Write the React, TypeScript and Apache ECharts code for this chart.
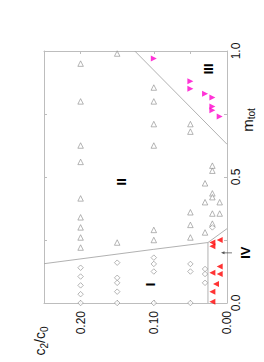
import { useEffect, useRef } from "react";
import * as echarts from "echarts";

// data points as [c2/c0, m_tot]
const openTriangles: [number, number][] = [
  [0.2, 0.95], [0.2, 0.8], [0.2, 0.625], [0.2, 0.56], [0.2, 0.415], [0.2, 0.34], [0.2, 0.3], [0.2, 0.26], [0.2, 0.22],
  [0.15, 0.99], [0.15, 0.24],
  [0.1, 0.855], [0.1, 0.8], [0.1, 0.71], [0.1, 0.625], [0.1, 0.29], [0.1, 0.25],
  [0.05, 0.71], [0.05, 0.68], [0.05, 0.36], [0.05, 0.31], [0.05, 0.26],
  [0.03, 0.475], [0.03, 0.4], [0.03, 0.28],
  [0.02, 0.545], [0.02, 0.525], [0.02, 0.435], [0.02, 0.42], [0.02, 0.355], [0.02, 0.315],
  [0.01, 0.4], [0.01, 0.355],
];
const openDiamonds: [number, number][] = [
  [0.2, 0.14], [0.2, 0.105], [0.2, 0.07], [0.2, 0.035], [0.2, 0.0],
  [0.15, 0.16], [0.15, 0.1], [0.15, 0.08], [0.15, 0.045], [0.15, 0.0],
  [0.1, 0.18], [0.1, 0.155], [0.1, 0.125], [0.1, 0.0],
  [0.05, 0.155], [0.05, 0.125], [0.05, 0.0],
  [0.03, 0.135], [0.03, 0.115], [0.03, 0.08],
  [0.02, 0.3],
];
const redTriangles: [number, number][] = [
  [0.01, 0.25], [0.01, 0.145], [0.01, 0.115],
  [0.02, 0.24], [0.02, 0.225], [0.02, 0.12], [0.02, 0.045], [0.02, 0.005],
  [0.015, 0.075],
];
const magentaTriangles: [number, number][] = [
  [0.1, 0.97],
  [0.05, 0.88], [0.05, 0.85],
  [0.03, 0.83],
  [0.02, 0.815], [0.02, 0.78], [0.02, 0.765],
  [0.01, 0.74],
];
// phase boundaries
const boundaryI_II: [number, number][] = [[0.25, 0.156], [0.1, 0.213], [0.026, 0.24]];
const boundaryIV: [number, number][] = [[0.026, 0.24], [0.026, 0.0]];
const boundaryIV_II: [number, number][] = [[0.026, 0.24], [0.0, 0.295]];
const boundaryIII: [number, number][] = [[0.126, 1.0], [0.0, 0.63]];

const regionLabels = ["I", "II", "III", "IV"];
const regionPositions: [number, number][] = [[0.105, 0.074], [0.144, 0.481], [0.0246, 0.929], [-0.0246, 0.2]];
const arrowFrom: [number, number] = [-0.0068, 0.199];
const arrowTo: [number, number] = [0.0082, 0.199];

const cTickLabels = ["0.00", "0.10", "0.20"];
const mTickLabels = ["0.0", "0.5", "1.0"];

const FONT = "Liberation Sans";
const FRAME = "#bdbdbd";
const GRAY = "#8a8a8a";

export default function App() {
  const ref = useRef<HTMLDivElement>(null);
  useEffect(() => {
    document.body.style.margin = "0";
    const chart = echarts.init(ref.current!, null, { renderer: "svg" });
    const axisCommon = {
      type: "value" as const,
      axisLine: { show: true, onZero: false, lineStyle: { color: FRAME, width: 1 } },
      axisTick: { show: true, inside: true, length: 3, lineStyle: { color: FRAME, width: 1 } },
      splitLine: { show: false },
    };
    const lineSeries = (data: [number, number][]) => ({
      type: "line",
      data,
      showSymbol: false,
      symbol: "none",
      silent: true,
      lineStyle: { color: "#a8a8a8", width: 0.9 },
      z: 1,
    });
    chart.setOption({
      animation: false,
      backgroundColor: "#fff",
      grid: { left: 44, right: 37, top: 51, bottom: 59 },
      xAxis: [
        {
          ...axisCommon,
          min: 0, max: 0.25, interval: 0.05, inverse: true, position: "bottom",
          axisLabel: {
            rotate: 90, margin: 8, fontSize: 12, fontFamily: FONT, color: "#111",
            formatter: (v: number) => { const s = v.toFixed(2); return cTickLabels.includes(s) ? s : ""; },
          },
        },
        { ...axisCommon, min: 0, max: 0.25, interval: 0.05, inverse: true, position: "top", axisLabel: { show: false } },
      ],
      yAxis: [
        {
          ...axisCommon,
          min: 0, max: 1, interval: 0.25, position: "right",
          axisLabel: {
            rotate: 90, margin: 3, fontSize: 12, fontFamily: FONT, color: "#111",
            formatter: (v: number) => { const s = v.toFixed(1); return mTickLabels.includes(s) && Math.abs(v * 2 - Math.round(v * 2)) < 1e-9 ? s : ""; },
          },
        },
        { ...axisCommon, min: 0, max: 1, interval: 0.25, position: "left", axisLabel: { show: false } },
      ],
      series: [
        lineSeries(boundaryI_II),
        lineSeries(boundaryIV),
        lineSeries(boundaryIV_II),
        lineSeries(boundaryIII),
        {
          type: "scatter", data: openTriangles, symbol: "triangle", symbolSize: 5.5,
          itemStyle: { color: "#fff", borderColor: GRAY, borderWidth: 0.8 }, z: 3,
        },
        {
          type: "scatter", data: openDiamonds, symbol: "diamond", symbolSize: 5.5,
          itemStyle: { color: "#fff", borderColor: GRAY, borderWidth: 0.8 }, z: 3,
        },
        {
          type: "scatter", data: redTriangles, symbol: "triangle", symbolSize: 6, symbolRotate: 90,
          itemStyle: { color: "#ff0000" }, z: 3,
        },
        {
          type: "scatter", data: magentaTriangles, symbol: "triangle", symbolSize: 6, symbolRotate: -90,
          itemStyle: { color: "#ff00cc" }, z: 3,
        },
      ],
    });

    const px = (p: [number, number]) => chart.convertToPixel({ xAxisIndex: 0, yAxisIndex: 0 }, p) as number[];
    const labels = regionLabels.map((t, i) => {
      const [x, y] = px(regionPositions[i]);
      return {
        type: "text", x, y, rotation: Math.PI / 2, z: 10,
        style: { text: t, fontSize: 13, fontWeight: "bold", fontFamily: FONT, fill: "#000", align: "center", verticalAlign: "middle" },
      };
    });
    const [ax0, ay0] = px(arrowFrom);
    const [ax1, ay1] = px(arrowTo);
    const arrow = [
      { type: "line", z: 10, shape: { x1: ax0, y1: ay0, x2: ax1 + 2, y2: ay1 }, style: { stroke: "#555", lineWidth: 0.8 } },
      { type: "polygon", z: 10, shape: { points: [[ax1, ay1], [ax1 + 3.5, ay1 - 1.5], [ax1 + 3.5, ay1 + 1.5]] }, style: { fill: "#555" } },
    ];
    const sub = (parts: { t: string; size: number; dy: number; w: number }[], gx: number, gy: number) => {
      const total = parts.reduce((a, p) => a + p.w, 0);
      let lx = -total / 2;
      const children = parts.map((p) => {
        const el = {
          type: "text", x: lx, y: p.dy,
          style: { text: p.t, fontSize: p.size, fontFamily: FONT, fill: "#111", align: "left", verticalAlign: "middle" },
        };
        lx += p.w;
        return el;
      });
      return { type: "group", x: gx, y: gy, rotation: Math.PI / 2, children };
    };
    const mName = sub([
      { t: "m", size: 15, dy: 0, w: 12.5 },
      { t: "tot", size: 10, dy: 4, w: 11.2 },
    ], 247.5, 120);
    const cName = sub([
      { t: "c", size: 14, dy: 0, w: 7 },
      { t: "2", size: 10, dy: 4, w: 5.6 },
      { t: "/", size: 14, dy: 0, w: 3.9 },
      { t: "c", size: 14, dy: 0, w: 7 },
      { t: "0", size: 10, dy: 4, w: 5.6 },
    ], 40, 341);
    chart.setOption({ graphic: [...labels, ...arrow, mName, cName] });
    return () => chart.dispose();
  }, []);
  return <div ref={ref} style={{ width: 264, height: 362 }} />;
}
